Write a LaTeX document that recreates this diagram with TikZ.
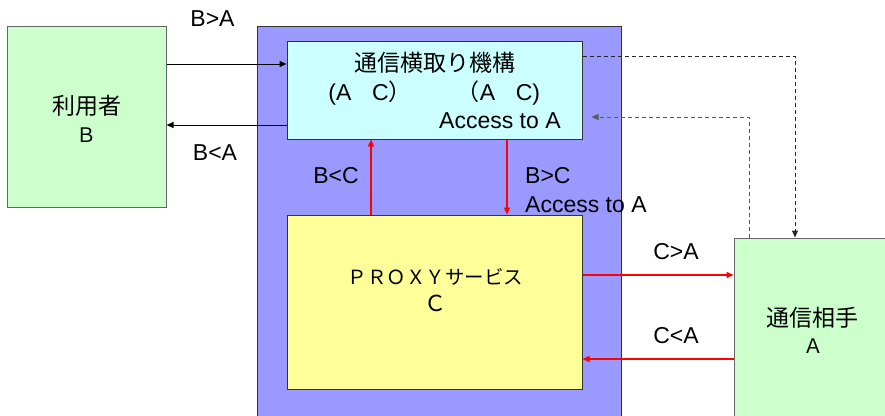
\documentclass[tikz,border=0pt]{standalone}
\usepackage{fontspec}
\setmainfont{Liberation Sans}
\newfontfamily\jp{Noto Sans CJK JP}
\usetikzlibrary{arrows.meta}
\definecolor{usergreen}{HTML}{CCFFCC}
\definecolor{sysblue}{HTML}{9999FF}
\definecolor{icptcyan}{HTML}{CCFFFF}
\definecolor{proxyyellow}{HTML}{FFFF99}
\definecolor{edgegray}{HTML}{333333}
\definecolor{linkred}{HTML}{FF0000}
\tikzset{
  box/.style={draw=edgegray, line width=1pt, inner sep=0pt, anchor=center},
  txt/.style={inner sep=0pt, anchor=base, font=\fontsize{23}{27}\selectfont},
  jtxt/.style={inner sep=0pt, anchor=base, font=\jp\fontsize{23}{27}\selectfont},
  arr/.style={line width=1pt, -{Triangle[length=7pt,width=6pt]}},
  blackarr/.style={arr, color=black},
  redarr/.style={arr, color=linkred, line width=1.4pt},
  dasharr/.style={arr, dash pattern=on 4pt off 3pt},
}
\begin{document}
\begin{tikzpicture}[x=1pt,y=-1pt]
\useasboundingbox (0,0) rectangle (885,415);
\clip (0,0) rectangle (885,415);
% boxes
\node[box, fill=usergreen, draw=gray!80!black, minimum width=159pt, minimum height=181pt] (user) at (86.5,116.5) {};
\node[box, fill=sysblue, minimum width=364pt, minimum height=400pt] (sys) at (439,226) {};
\node[box, fill=icptcyan, minimum width=295pt, minimum height=98pt] (icpt) at (434.5,90) {};
\node[box, fill=proxyyellow, minimum width=295pt, minimum height=174pt] (proxy) at (434.5,302) {};
\node[box, fill=usergreen, draw=gray!80!black, minimum width=161pt, minimum height=184pt] (partner) at (814.5,330) {};
% texts in boxes
\node[jtxt] (tuser) at (86.7,114) {利用者};
\node[jtxt, font=\jp\fontsize{20}{24}\selectfont] (tuserB) at (86.7,142) {Ｂ};
\node[jtxt] (ticpt) at (435,71) {通信横取り機構};
\node[txt] (tac1) at (370,100) {(A\hspace{0.9em}C{\jp）}};
\node[txt] (tac2) at (498.5,100) {{\jp（}A\hspace{0.9em}C)};
\node[txt, anchor=base west] (tacc1) at (439,128) {Access to A};
\node[jtxt, font=\jp\fontsize{19.5}{23}\selectfont] (tproxy) at (435.5,284) {ＰＲＯＸＹサービス};
\node[jtxt, font=\jp\fontsize{22}{26}\selectfont] (tproxyC) at (435,311) {Ｃ};
\node[jtxt] (tpartner) at (812.5,326) {通信相手};
\node[jtxt, font=\jp\fontsize{20}{24}\selectfont] (tpartnerA) at (813,353) {Ａ};
% helper coordinates
\coordinate (hBA) at (0,64);
\coordinate (hBlA) at (0,125);
\coordinate (vBC1) at (371,0);
\coordinate (vBC2) at (507,0);
\coordinate (hCA1) at (0,275);
\coordinate (hCA2) at (0,359);
\coordinate (d1) at (795,56);
\coordinate (d2) at (749,117);
% connectors
\draw[blackarr] (user.east |- hBA) -- (icpt.west |- hBA);
\draw[blackarr] (icpt.west |- hBlA) -- (user.east |- hBlA);
\draw[redarr] (proxy.north -| vBC1) -- (icpt.south -| vBC1);
\draw[redarr] (icpt.south -| vBC2) -- (proxy.north -| vBC2);
\draw[redarr] (proxy.east |- hCA1) -- (partner.west |- hCA1);
\draw[redarr] (partner.west |- hCA2) -- (proxy.east |- hCA2);
\draw[dasharr, color=black!85] (icpt.east |- d1) -| (partner.north -| d1);
\draw[dasharr, color=black!65, shorten >=9pt] (partner.north -| d2) |- (icpt.east |- d2);
% connector labels
\node[txt] (lBA) at (212.5,26) {B>A};
\node[txt] (lBlA) at (215,160) {B<A};
\node[txt] (lBlC) at (336,183) {B<C};
\node[txt, anchor=base west] (lBC) at (525,183) {B>C};
\node[txt, anchor=base west] (lacc2) at (525,212) {Access to A};
\node[txt] (lCA) at (676,259) {C>A};
\node[txt] (lClA) at (676,343) {C<A};
\end{tikzpicture}
\end{document}
